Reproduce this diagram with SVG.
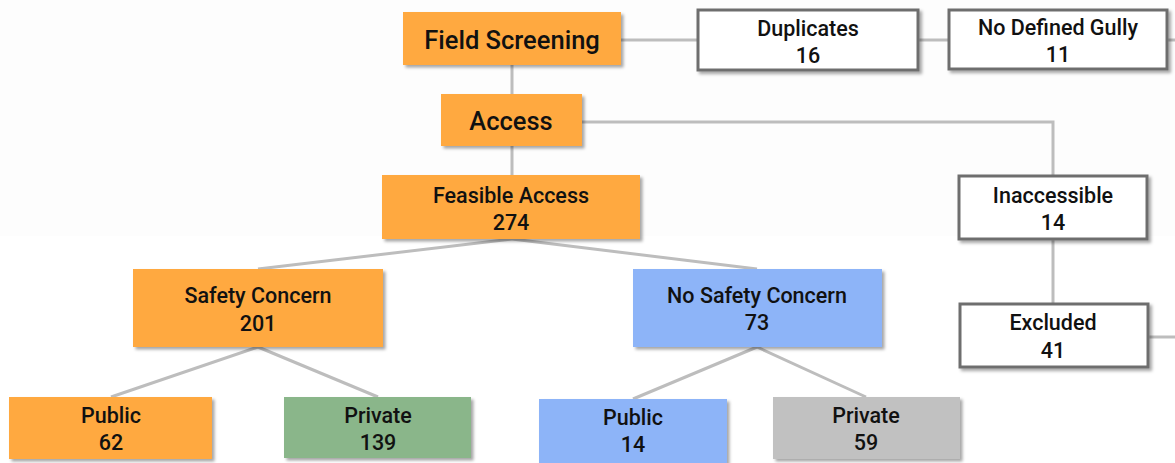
<svg xmlns="http://www.w3.org/2000/svg" width="1175" height="463" viewBox="0 0 1175 463">
<defs>
<filter id="sh" x="-10%" y="-10%" width="130%" height="140%">
<feDropShadow dx="2.5" dy="2.5" stdDeviation="1.5" flood-color="#000" flood-opacity="0.35"/>
</filter>
<style>
.bg{fill:#fdfdfd}
.or{fill:#ffa940;filter:url(#sh)}
.bl{fill:#8db4f8;filter:url(#sh)}
.gr{fill:#8ab68a;filter:url(#sh)}
.gy{fill:#c1c1c1;filter:url(#sh)}
.wh{fill:#fff;stroke:#6e6e6e;stroke-width:3;filter:url(#sh)}
.t{font-family:Roboto,"Liberation Sans",Arial,sans-serif;font-weight:500;fill:#111;text-anchor:middle;font-size:21.5px}
.big{font-size:25.5px}
.c{stroke:#bdbdbd;stroke-width:3;fill:none}
</style>
</defs>
<rect class="bg" x="0" y="0" width="1175" height="236"/>
<g id="connectors">
<line class="c" x1="512" y1="65" x2="512" y2="94"/>
<line class="c" x1="512" y1="146" x2="512" y2="175"/>
<line class="c" x1="621" y1="40" x2="697" y2="40"/>
<line class="c" x1="918" y1="40" x2="948" y2="40"/>
<line class="c" x1="1167" y1="40" x2="1175" y2="40"/>
<polyline class="c" points="582,122 1053,122 1053,176"/>
<line class="c" x1="1053" y1="239" x2="1053" y2="303"/>
<line class="c" x1="1148" y1="337" x2="1175" y2="337"/>
<line class="c" x1="512" y1="239" x2="258" y2="269"/>
<line class="c" x1="512" y1="239" x2="757" y2="269"/>
<line class="c" x1="258" y1="347" x2="111" y2="397"/>
<line class="c" x1="258" y1="347" x2="378" y2="397"/>
<line class="c" x1="757" y1="347" x2="633" y2="399"/>
<line class="c" x1="757" y1="347" x2="866" y2="397"/>
</g>
<g id="field-screening">
<rect class="or" x="403" y="12" width="218" height="53"/>
<text class="t big" x="512" y="49">Field Screening</text>
</g>
<g id="access">
<rect class="or" x="441" y="94" width="141" height="52"/>
<text class="t big" x="511" y="130">Access</text>
</g>
<g id="feasible-access">
<rect class="or" x="382" y="175" width="258" height="64"/>
<text class="t" x="511" y="203">Feasible Access</text>
<text class="t" x="511" y="230">274</text>
</g>
<g id="duplicates">
<rect class="wh" x="698" y="10" width="220" height="60"/>
<text class="t" x="808" y="36">Duplicates</text>
<text class="t" x="808" y="63">16</text>
</g>
<g id="no-defined-gully">
<rect class="wh" x="949" y="10" width="218" height="59"/>
<text class="t" x="1058" y="35">No Defined Gully</text>
<text class="t" x="1058" y="62">11</text>
</g>
<g id="inaccessible">
<rect class="wh" x="959" y="176" width="188" height="63"/>
<text class="t" x="1053" y="203">Inaccessible</text>
<text class="t" x="1053" y="230">14</text>
</g>
<g id="excluded">
<rect class="wh" x="960" y="304" width="188" height="63"/>
<text class="t" x="1053" y="330">Excluded</text>
<text class="t" x="1053" y="358">41</text>
</g>
<g id="safety-concern">
<rect class="or" x="133" y="269" width="250" height="78"/>
<text class="t" x="258" y="303">Safety Concern</text>
<text class="t" x="258" y="331">201</text>
</g>
<g id="no-safety-concern">
<rect class="bl" x="633" y="269" width="249" height="78"/>
<text class="t" x="757" y="303">No Safety Concern</text>
<text class="t" x="757" y="330">73</text>
</g>
<g id="public-safety">
<rect class="or" x="9" y="397" width="203" height="62"/>
<text class="t" x="111" y="423">Public</text>
<text class="t" x="111" y="450">62</text>
</g>
<g id="private-safety">
<rect class="gr" x="284" y="397" width="187" height="61"/>
<text class="t" x="378" y="423">Private</text>
<text class="t" x="378" y="450">139</text>
</g>
<g id="public-nosafety">
<rect class="bl" x="539" y="399" width="188" height="64"/>
<text class="t" x="633" y="425">Public</text>
<text class="t" x="633" y="452">14</text>
</g>
<g id="private-nosafety">
<rect class="gy" x="773" y="397" width="187" height="62"/>
<text class="t" x="866" y="423">Private</text>
<text class="t" x="866" y="450">59</text>
</g>
</svg>
